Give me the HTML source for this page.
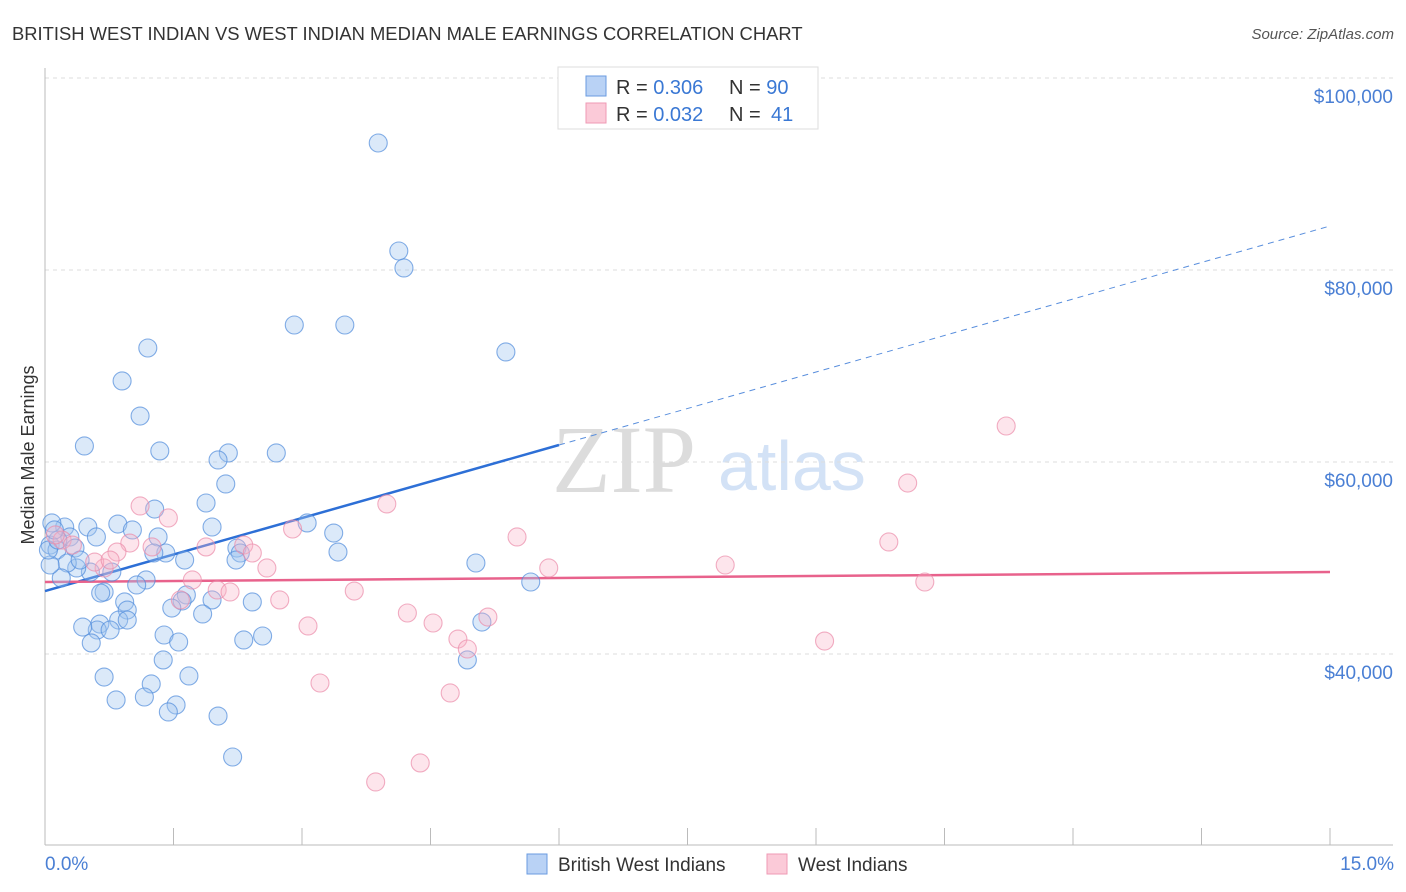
<!DOCTYPE html>
<html><head><meta charset="utf-8"><style>
body{margin:0;background:#fff;font-family:"Liberation Sans",sans-serif;}
svg{display:block}
</style></head><body>
<svg id="chart" width="1406" height="892">
<text x="12" y="40" font-size="18.4" fill="#333">BRITISH WEST INDIAN VS WEST INDIAN MEDIAN MALE EARNINGS CORRELATION CHART</text>
<text x="1394" y="39" font-size="15" fill="#555" font-style="italic" text-anchor="end">Source: ZipAtlas.com</text>
<g>
<text x="552" y="492" font-size="96" font-family="Liberation Serif,serif" fill="#dcdcdc">ZIP</text>
<text x="718" y="490" font-size="70" fill="#d3e2f6">atlas</text>
</g>
<g id="grid"></g>
<g id="axes"></g>
<g id="lines"></g>
<g id="points"></g>
<text transform="translate(34,455) rotate(-90)" font-size="18" fill="#333" text-anchor="middle">Median Male Earnings</text>
<text x="45" y="870" font-size="19" fill="#4a7fd4">0.0%</text>
<text x="1394" y="870" font-size="19" fill="#4a7fd4" text-anchor="end">15.0%</text>
<g>
<rect x="558" y="67" width="260" height="62" fill="#fff" stroke="#ddd"/>
<rect x="586" y="76" width="20" height="20" fill="#b9d2f5" stroke="#6a9be0"/>
<rect x="586" y="103" width="20" height="20" fill="#fbcad8" stroke="#ef9ab4"/>
<text x="616" y="94" font-size="20" fill="#333">R = <tspan fill="#3a78d4">0.306</tspan><tspan x="729">N = </tspan><tspan fill="#3a78d4">90</tspan></text>
<text x="616" y="121" font-size="20" fill="#333">R = <tspan fill="#3a78d4">0.032</tspan><tspan x="729">N = </tspan><tspan fill="#3a78d4" x="771">41</tspan></text>
</g>
<g>
<rect x="527" y="854" width="20" height="20" fill="#b9d2f5" stroke="#6a9be0"/>
<text x="558" y="871" font-size="19" fill="#333">British West Indians</text>
<rect x="767" y="854" width="20" height="20" fill="#fbcad8" stroke="#ef9ab4"/>
<text x="798" y="871" font-size="19" fill="#333">West Indians</text>
</g>
</svg>
<script>
const yTicks=[40000,60000,80000,100000];
const yTickLabels=["$40,000","$60,000","$80,000","$100,000"];
const xTicks=[0,1.5,3,4.5,6,7.5,9,10.5,12,13.5,15];
const blueX=[3.89,4.13,4.19,2.91,3.50,5.38,1.20,0.90,1.11,0.46,1.34,2.14,2.02,2.70,2.11,1.88,1.28,1.95,0.85,1.02,0.50,0.23,0.08,0.60,0.29,0.06,0.14,0.35,1.32,1.41,1.27,1.63,2.24,2.28,2.23,3.37,3.06,3.42,5.03,5.67,0.78,0.53,1.18,1.07,0.37,0.26,0.19,0.69,0.65,1.65,1.60,1.48,0.93,0.96,1.95,2.42,1.84,0.86,0.96,0.64,0.61,0.76,0.44,0.54,1.39,1.56,2.54,2.32,5.10,4.93,1.38,0.69,1.68,1.24,0.83,1.16,1.53,1.44,2.02,2.19,0.06,0.04,0.15,0.41,0.11];
const blueY=[93230,81980,80210,74270,74270,71460,71875,68440,64790,61670,61150,60940,60210,60940,57710,55730,55100,53230,53540,52920,53230,53230,53650,52190,52190,51350,50830,51040,52190,50520,50520,49790,51040,50520,49790,52600,53650,50620,49480,47500,48540,48540,47710,47190,48960,49480,47920,46460,46350,46150,45520,44790,45420,44580,45630,45420,44170,43540,43540,43120,42500,42500,42810,41150,41980,41250,41875,41460,43330,39380,39380,37600,37710,36880,35210,35520,34690,33960,33540,29270,49270,50830,51870,49790,52920];
const pinkX=[11.22,10.07,1.11,1.44,3.99,2.89,5.51,9.85,0.20,0.32,0.99,0.84,1.88,2.32,2.42,0.69,2.59,5.88,7.94,10.27,1.72,2.01,2.16,1.58,2.74,3.61,4.23,4.53,5.17,3.07,4.82,4.93,9.10,3.21,4.73,4.38,3.86,0.58,0.12,1.25,0.76];
const pinkY=[63750,57810,55420,54170,55630,53020,52190,51670,51870,51350,51560,50620,51150,51350,50520,48960,48960,48960,49270,47500,47710,46670,46460,45630,45630,46560,44270,43230,43850,42920,41560,40520,41350,36980,35940,28650,26670,49580,52400,51150,49790];
const blueTrend=[46560,61770]; // values at x=0 and x=6
const pinkTrend=[47500,48540]; // values at x=0 and x=15
const NS="http://www.w3.org/2000/svg";
const X=v=>45+v*85.667;
const Y=v=>78+(100000-v)*192/20000;
function mk(t,a,p){const e=document.createElementNS(NS,t);for(const k in a)e.setAttribute(k,a[k]);document.getElementById(p).appendChild(e);return e;}
yTicks.forEach((t,i)=>{
 const g=mk('line',{x1:45,x2:1393,y1:Y(t),y2:Y(t),stroke:'#ddd','stroke-dasharray':'4,4'},'grid');
 
 
 const l=mk('text',{x:1393,y:Y(t)+25,'font-size':19,fill:'#4a7fd4','text-anchor':'end'},'axes');
 l.textContent=yTickLabels[i];
 
 
});
const ya=mk('line',{x1:45,x2:45,y1:68,y2:845,stroke:'#bbb'},'axes');


const xa=mk('line',{x1:45,x2:1393,y1:845,y2:845,stroke:'#bbb'},'axes');


xTicks.forEach(t=>{
 const k=mk('line',{x1:X(t),x2:X(t),y1:828,y2:845,stroke:'#bbb'},'axes');
 
 
});
const slope=(blueTrend[1]-blueTrend[0])/6;
const b1=mk('line',{x1:X(0),y1:Y(blueTrend[0]),x2:X(6),y2:Y(blueTrend[1]),stroke:'#2d6fd6','stroke-width':2.5},'lines');


const b2=mk('line',{x1:X(6),y1:Y(blueTrend[1]),x2:X(15),y2:Y(blueTrend[0]+slope*15),stroke:'#5a8fdd','stroke-width':1,'stroke-dasharray':'6,5'},'lines');


const p1=mk('line',{x1:X(0),y1:Y(pinkTrend[0]),x2:X(15),y2:Y(pinkTrend[1]),stroke:'#e8628c','stroke-width':2.5},'lines');


blueX.forEach((x,i)=>{
 const c=mk('circle',{cx:X(x),cy:Y(blueY[i]),r:9,fill:'rgba(160,196,240,0.38)',stroke:'rgba(80,140,220,0.7)','stroke-width':1.1},'points');
 
 
});
pinkX.forEach((x,i)=>{
 const c=mk('circle',{cx:X(x),cy:Y(pinkY[i]),r:9,fill:'rgba(248,180,200,0.35)',stroke:'rgba(235,140,170,0.7)','stroke-width':1.1},'points');
 
 
});
</script>
</body></html>
